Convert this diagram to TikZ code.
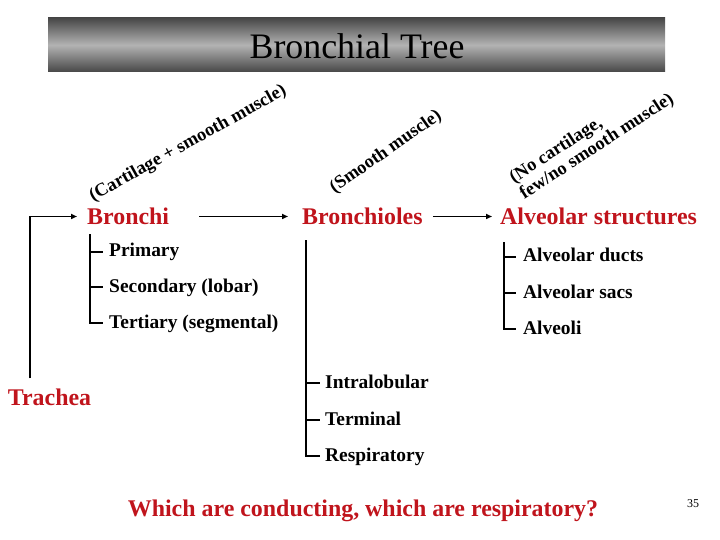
\documentclass[tikz,border=0pt]{standalone}
\usepackage{fontspec}
\setmainfont{Liberation Serif}
\usetikzlibrary{arrows.meta,positioning}
\definecolor{labelRed}{HTML}{C0141C}
\tikzset{
  arr/.style={-{Triangle[length=6bp,width=5bp]}, line width=1.5bp},
  branch/.style={line width=1.1bp},
  level/.style={font=\fontsize{24}{28}\selectfont\bfseries, text=labelRed,
    text height=17bp, text depth=0bp, inner sep=3bp},
  item/.style={font=\fontsize{19.5}{22}\selectfont\bfseries, text height=14bp,
    text depth=4bp, inner sep=3bp, anchor=west},
  slant/.style={font=\fontsize{18.5}{19}\selectfont\bfseries, align=left,
    inner sep=0pt}
}
\begin{document}
\begin{tikzpicture}[x=1bp,y=-1bp]
  \useasboundingbox (0,0) rectangle (720,540);
  % title bar
  \shade[top color=black!72, bottom color=black!72, middle color=black!30]
    (48,18) rectangle (665,72);
  \node[font=\fontsize{36}{40}\selectfont] (title) at (357,46) {Bronchial Tree};

  % main levels
  \node[level] (trachea) at (49.5,397) {Trachea};
  \node[level, anchor=west] (bronchi) at (84,216.5) {Bronchi};
  \node[level, anchor=west] (bronchioles) at (299,216.5) {Bronchioles};
  \node[level, anchor=west] (alveolar) at (497,216.5) {Alveolar structures};

  \draw[arr, shorten <=7bp, shorten >=7bp] ([xshift=-19.5bp]trachea.north) |- (bronchi.west);
  \draw[arr, shorten <=27bp, shorten >=11bp] (bronchi) -- (bronchioles);
  \draw[arr, shorten <=7bp, shorten >=5bp] (bronchioles) -- (alveolar);

  % wall composition
  \node[slant, rotate=29] (wallA) at (188,144) {(Cartilage + smooth muscle)};
  \node[slant, rotate=35] (wallB) at (386,152) {(Smooth muscle)};
  \node[slant, rotate=33] (wallC) at (592,139) {(No cartilage,\\few/no smooth muscle)};

  % bronchi
  \node[item] (primary) at (106,252) {Primary};
  \node[item] (secondary) at (106,287) {Secondary (lobar)};
  \node[item] (tertiary) at (106,323) {Tertiary (segmental)};
  \foreach \n in {primary,secondary,tertiary}
    \draw[branch, shorten >=3bp] ([xshift=6bp,yshift=-6bp]bronchi.south west) |- (\n.west);

  % bronchioles
  \node[item] (intralob) at (322,383) {Intralobular};
  \node[item] (terminal) at (322,420) {Terminal};
  \node[item] (respir) at (322,456) {Respiratory};
  \foreach \n in {intralob,terminal,respir}
    \draw[branch, shorten >=2bp] ([xshift=7bp,yshift=-12bp]bronchioles.south west) |- (\n.west);

  % alveolar structures
  \node[item] (ducts) at (520,257) {Alveolar ducts};
  \node[item] (sacs) at (520,293) {Alveolar sacs};
  \node[item] (alveoli) at (520,329) {Alveoli};
  \foreach \n in {ducts,sacs,alveoli}
    \draw[branch, shorten >=4bp] ([xshift=7bp,yshift=-14bp]alveolar.south west) |- (\n.west);

  \node[font=\fontsize{24}{28}\selectfont\bfseries, text=labelRed] (question) at (363,511)
    {Which are conducting, which are respiratory?};
  \node[font=\fontsize{12}{14}\selectfont] (pagenum) at (693,504) {35};
\end{tikzpicture}
\end{document}
